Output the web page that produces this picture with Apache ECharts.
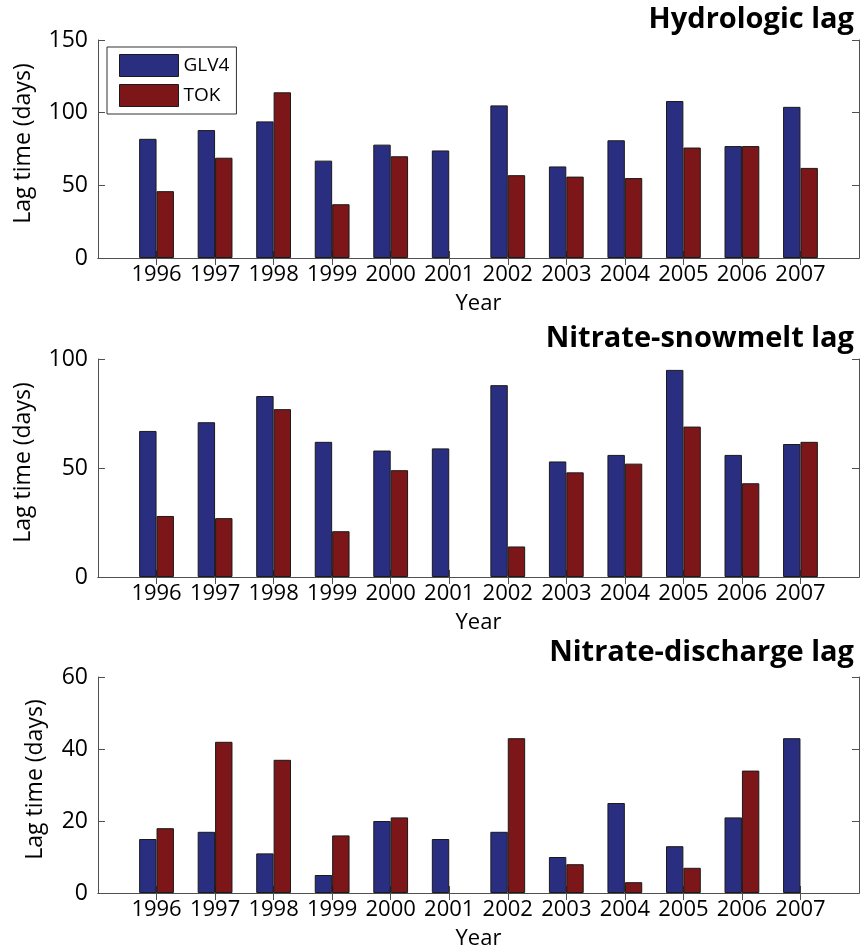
<!DOCTYPE html>
<html>
<head>
<meta charset="utf-8">
<script src="https://cdn.jsdelivr.net/npm/echarts@6/dist/echarts.min.js"></script>
<style>
  html, body { margin: 0; padding: 0; background: #fff; }
  #chart { width: 863px; height: 951px; }
</style>
</head>
<body>
<div id="chart"></div>
<script>
// Years on the x axis
const years = [1996, 1997, 1998, 1999, 2000, 2001, 2002, 2003, 2004, 2005, 2006, 2007];

// Hydrologic lag (days)
const hydroGLV4 = [82, 88, 94, 67, 78, 74, 105, 63, 81, 108, 77, 104];
const hydroTOK  = [46, 69, 114, 37, 70, null, 57, 56, 55, 76, 77, 62];

// Nitrate-snowmelt lag (days)
const snowGLV4 = [67, 71, 83, 62, 58, 59, 88, 53, 56, 95, 56, 61];
const snowTOK  = [28, 27, 77, 21, 49, null, 14, 48, 52, 69, 43, 62];

// Nitrate-discharge lag (days)
const dischGLV4 = [15, 17, 11, 5, 20, 15, 17, 10, 25, 13, 21, 43];
const dischTOK  = [18, 42, 37, 16, 21, null, 43, 8, 3, 7, 34, null];

// Y tick labels for each panel
const hydroTicks = [0, 50, 100, 150];
const snowTicks  = [0, 50, 100];
const dischTicks = [0, 20, 40, 60];

const seriesNames = ['GLV4', 'TOK'];
const seriesColors = ['#2a2e80', '#7d1619'];

const FONT = 'Open Sans';
const AXIS_COLOR = '#505050';

// Pad the category axis by one year on each side so the box spans 1995-2008
const firstPad = String(years[0] - 1);
const lastPad = String(years[years.length - 1] + 1);
const categories = [firstPad, ...years.map(String), lastPad];
const lastIndex = categories.length - 1;
const padData = arr => [null, ...arr, null];
const innerOnly = idx => idx !== 0 && idx !== lastIndex;

const panels = [
  { title: 'Hydrologic lag', glv: hydroGLV4, tok: hydroTOK, ticks: hydroTicks, top: 40, titleTop: 5, nameGap: 63 },
  { title: 'Nitrate-snowmelt lag', glv: snowGLV4, tok: snowTOK, ticks: snowTicks, top: 359, titleTop: 324, nameGap: 63 },
  { title: 'Nitrate-discharge lag', glv: dischGLV4, tok: dischTOK, ticks: dischTicks, top: 677, titleTop: 638, nameGap: 51 }
];

const grids = [], xAxes = [], yAxes = [], series = [], titles = [];

panels.forEach((p, i) => {
  grids.push({ left: 98, right: 4, top: p.top, height: 218, containLabel: false });

  titles.push({
    text: p.title, right: 9, top: p.titleTop, padding: 0,
    textStyle: { fontFamily: FONT, fontWeight: 'bold', fontSize: 29, color: '#000' }
  });

  const lineStyle = { color: AXIS_COLOR, width: 1 };
  const xTick = { show: true, inside: true, length: 7, interval: innerOnly, lineStyle };
  const yTick = { show: true, inside: true, length: 7, lineStyle };

  // bottom axis with labels
  xAxes.push({
    type: 'category', gridIndex: i, data: categories, boundaryGap: false,
    position: 'bottom',
    axisLine: { show: true, lineStyle },
    axisTick: xTick,
    axisLabel: {
      interval: 0, margin: 6, fontFamily: FONT, fontSize: 22, color: '#000',
      formatter: v => (v === firstPad || v === lastPad) ? '' : v
    },
    splitLine: { show: false },
    name: 'Year', nameLocation: 'middle', nameGap: 35,
    nameTextStyle: { fontFamily: FONT, fontSize: 22, color: '#000' }
  });
  // top mirror axis (box edge with inward ticks)
  xAxes.push({
    type: 'category', gridIndex: i, data: categories, boundaryGap: false,
    position: 'top',
    axisLine: { show: true, lineStyle },
    axisTick: xTick,
    axisLabel: { show: false },
    splitLine: { show: false }
  });

  const tmin = p.ticks[0], tmax = p.ticks[p.ticks.length - 1];
  const step = p.ticks[1] - p.ticks[0];
  yAxes.push({
    type: 'value', gridIndex: i, min: tmin, max: tmax, interval: step,
    position: 'left',
    axisLine: { show: true, lineStyle },
    axisTick: yTick,
    axisLabel: { margin: 10, fontFamily: FONT, fontSize: 23, color: '#000' },
    splitLine: { show: false },
    name: 'Lag time (days)', nameLocation: 'middle', nameGap: p.nameGap,
    nameTextStyle: { fontFamily: FONT, fontSize: 23, color: '#000', padding: [0, 0, 0, 11] }
  });
  yAxes.push({
    type: 'value', gridIndex: i, min: tmin, max: tmax, interval: step,
    position: 'right',
    axisLine: { show: true, lineStyle },
    axisTick: yTick,
    axisLabel: { show: false },
    splitLine: { show: false }
  });

  [p.glv, p.tok].forEach((vals, k) => {
    series.push({
      name: seriesNames[k], type: 'bar',
      xAxisIndex: i * 2, yAxisIndex: i * 2,
      data: padData(vals),
      barWidth: 17.4, barGap: '0%',
      itemStyle: { color: seriesColors[k], borderColor: '#1a1a1a', borderWidth: 1 },
      emphasis: { disabled: true },
      animation: false
    });
  });
});

const chart = echarts.init(document.getElementById('chart'), null, { renderer: 'canvas' });
chart.setOption({
  animation: false,
  backgroundColor: '#fff',
  title: titles,
  legend: {
    data: seriesNames,
    orient: 'vertical', left: 107, top: 47,
    itemWidth: 59, itemHeight: 22, itemGap: 7,
    padding: [7, 7, 7, 12],
    borderColor: '#333', borderWidth: 1, backgroundColor: '#fff',
    icon: 'rect',
    itemStyle: { borderColor: '#1a1a1a', borderWidth: 1 },
    textStyle: { fontFamily: FONT, fontSize: 19, color: '#000' },
    selectedMode: false
  },
  grid: grids,
  xAxis: xAxes,
  yAxis: yAxes,
  series: series
});
</script>
</body>
</html>
